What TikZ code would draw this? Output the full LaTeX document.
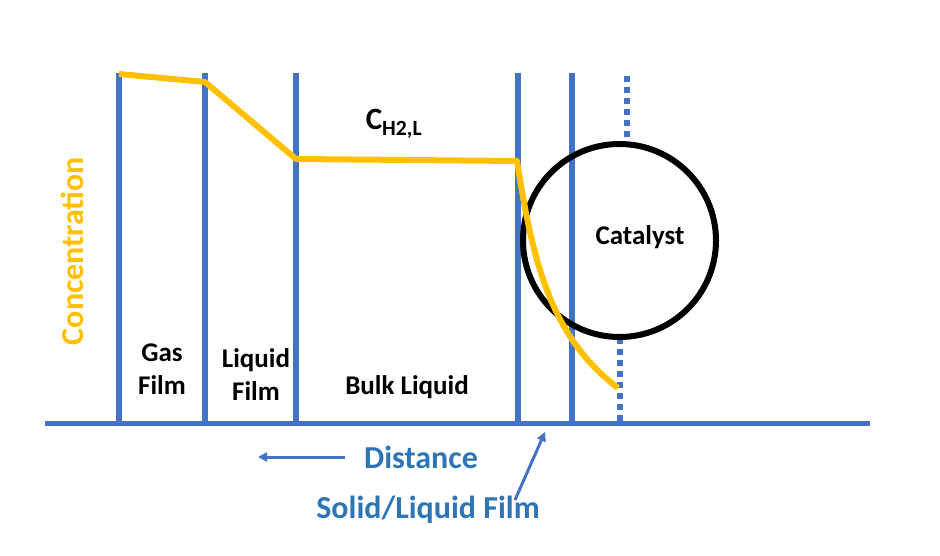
\documentclass[tikz,border=0pt]{standalone}
\usepackage{fontspec}
\setmainfont{Carlito}
\definecolor{lineblue}{RGB}{68,114,196}
\definecolor{textblue}{RGB}{46,117,182}
\definecolor{gold}{RGB}{255,192,0}
\tikzset{
  wall/.style={draw=lineblue, line width=6pt},
  dotwall/.style={draw=lineblue, line width=6pt, dash pattern=on 6pt off 5pt},
  conc/.style={draw=gold, line width=6pt, line join=round},
  lbl/.style={font=\bfseries\fontsize{27}{33}\selectfont, align=center, inner sep=0pt},
  bluelbl/.style={font=\bfseries\fontsize{32}{36}\selectfont, text=textblue, inner sep=0pt},
  ptr/.style={draw=lineblue, line width=3pt, -{Triangle[length=9pt,width=9pt]}}
}
\usetikzlibrary{arrows.meta}
\begin{document}
\begin{tikzpicture}[x=1pt,y=-1pt]
\useasboundingbox (0,0) rectangle (940,556);
% coordinates
\foreach \n/\x in {a/119,b/205,c/296,d/518,e/572}{
  \coordinate (\n top) at (\x,73);
  \coordinate (\n bot) at (\x,423);
}
\coordinate (axl) at (45,423);
\coordinate (axr) at (870,423);
\coordinate (ftop) at (627,76);
\coordinate (fmid) at (627,143);
\coordinate (fmid2) at (620,338);
\coordinate (fbot) at (620,423);
% walls
\foreach \n in {a,b,c,d,e}{ \draw[wall] (\n top) -- (\n bot); }
\draw[dotwall] (ftop) -- (fmid);
\draw[dotwall] (fmid2) -- (fbot);
\draw[draw=lineblue, line width=5pt] (axl) -- (axr);
% catalyst
\node[circle, draw=black, line width=6pt, minimum size=193pt, inner sep=0pt] (cat) at (619.5,240.5) {};
\node[lbl] (catl) at (640,237) {Catalyst};
% concentration profile
\coordinate (p1) at (119,74);
\coordinate (p2) at (205,82);
\coordinate (p3) at (296,159);
\coordinate (p4) at (517,161);
\coordinate (p5) at (618,388);
\draw[conc] (p1) -- (p2) -- (p3) -- (p4) .. controls (532,255) and (548,335) .. (p5);
% labels
\node[lbl, font=\bfseries\fontsize{31}{34}\selectfont] (chl) at (394,124) {C\textsubscript{H2,L}};
\node[lbl] (gas) at (162,369) {Gas\\Film};
\node[lbl] (liq) at (256,375) {Liquid\\Film};
\node[lbl] (bulk) at (407,387) {Bulk Liquid};
\node[bluelbl, text=gold, rotate=90] (concl) at (72,251) {Concentration};
\node[bluelbl] (dist) at (421,457) {Distance};
\node[bluelbl] (slf) at (428,510) {Solid/Liquid Film};
\coordinate (darrowS) at (345,457);
\coordinate (darrowE) at (258,457);
\draw[ptr] (darrowS) -- (darrowE);
\coordinate (sarrowS) at (515,500);
\coordinate (sarrowE) at (545,432);
\draw[ptr] (sarrowS) -- (sarrowE);
\end{tikzpicture}
\end{document}
